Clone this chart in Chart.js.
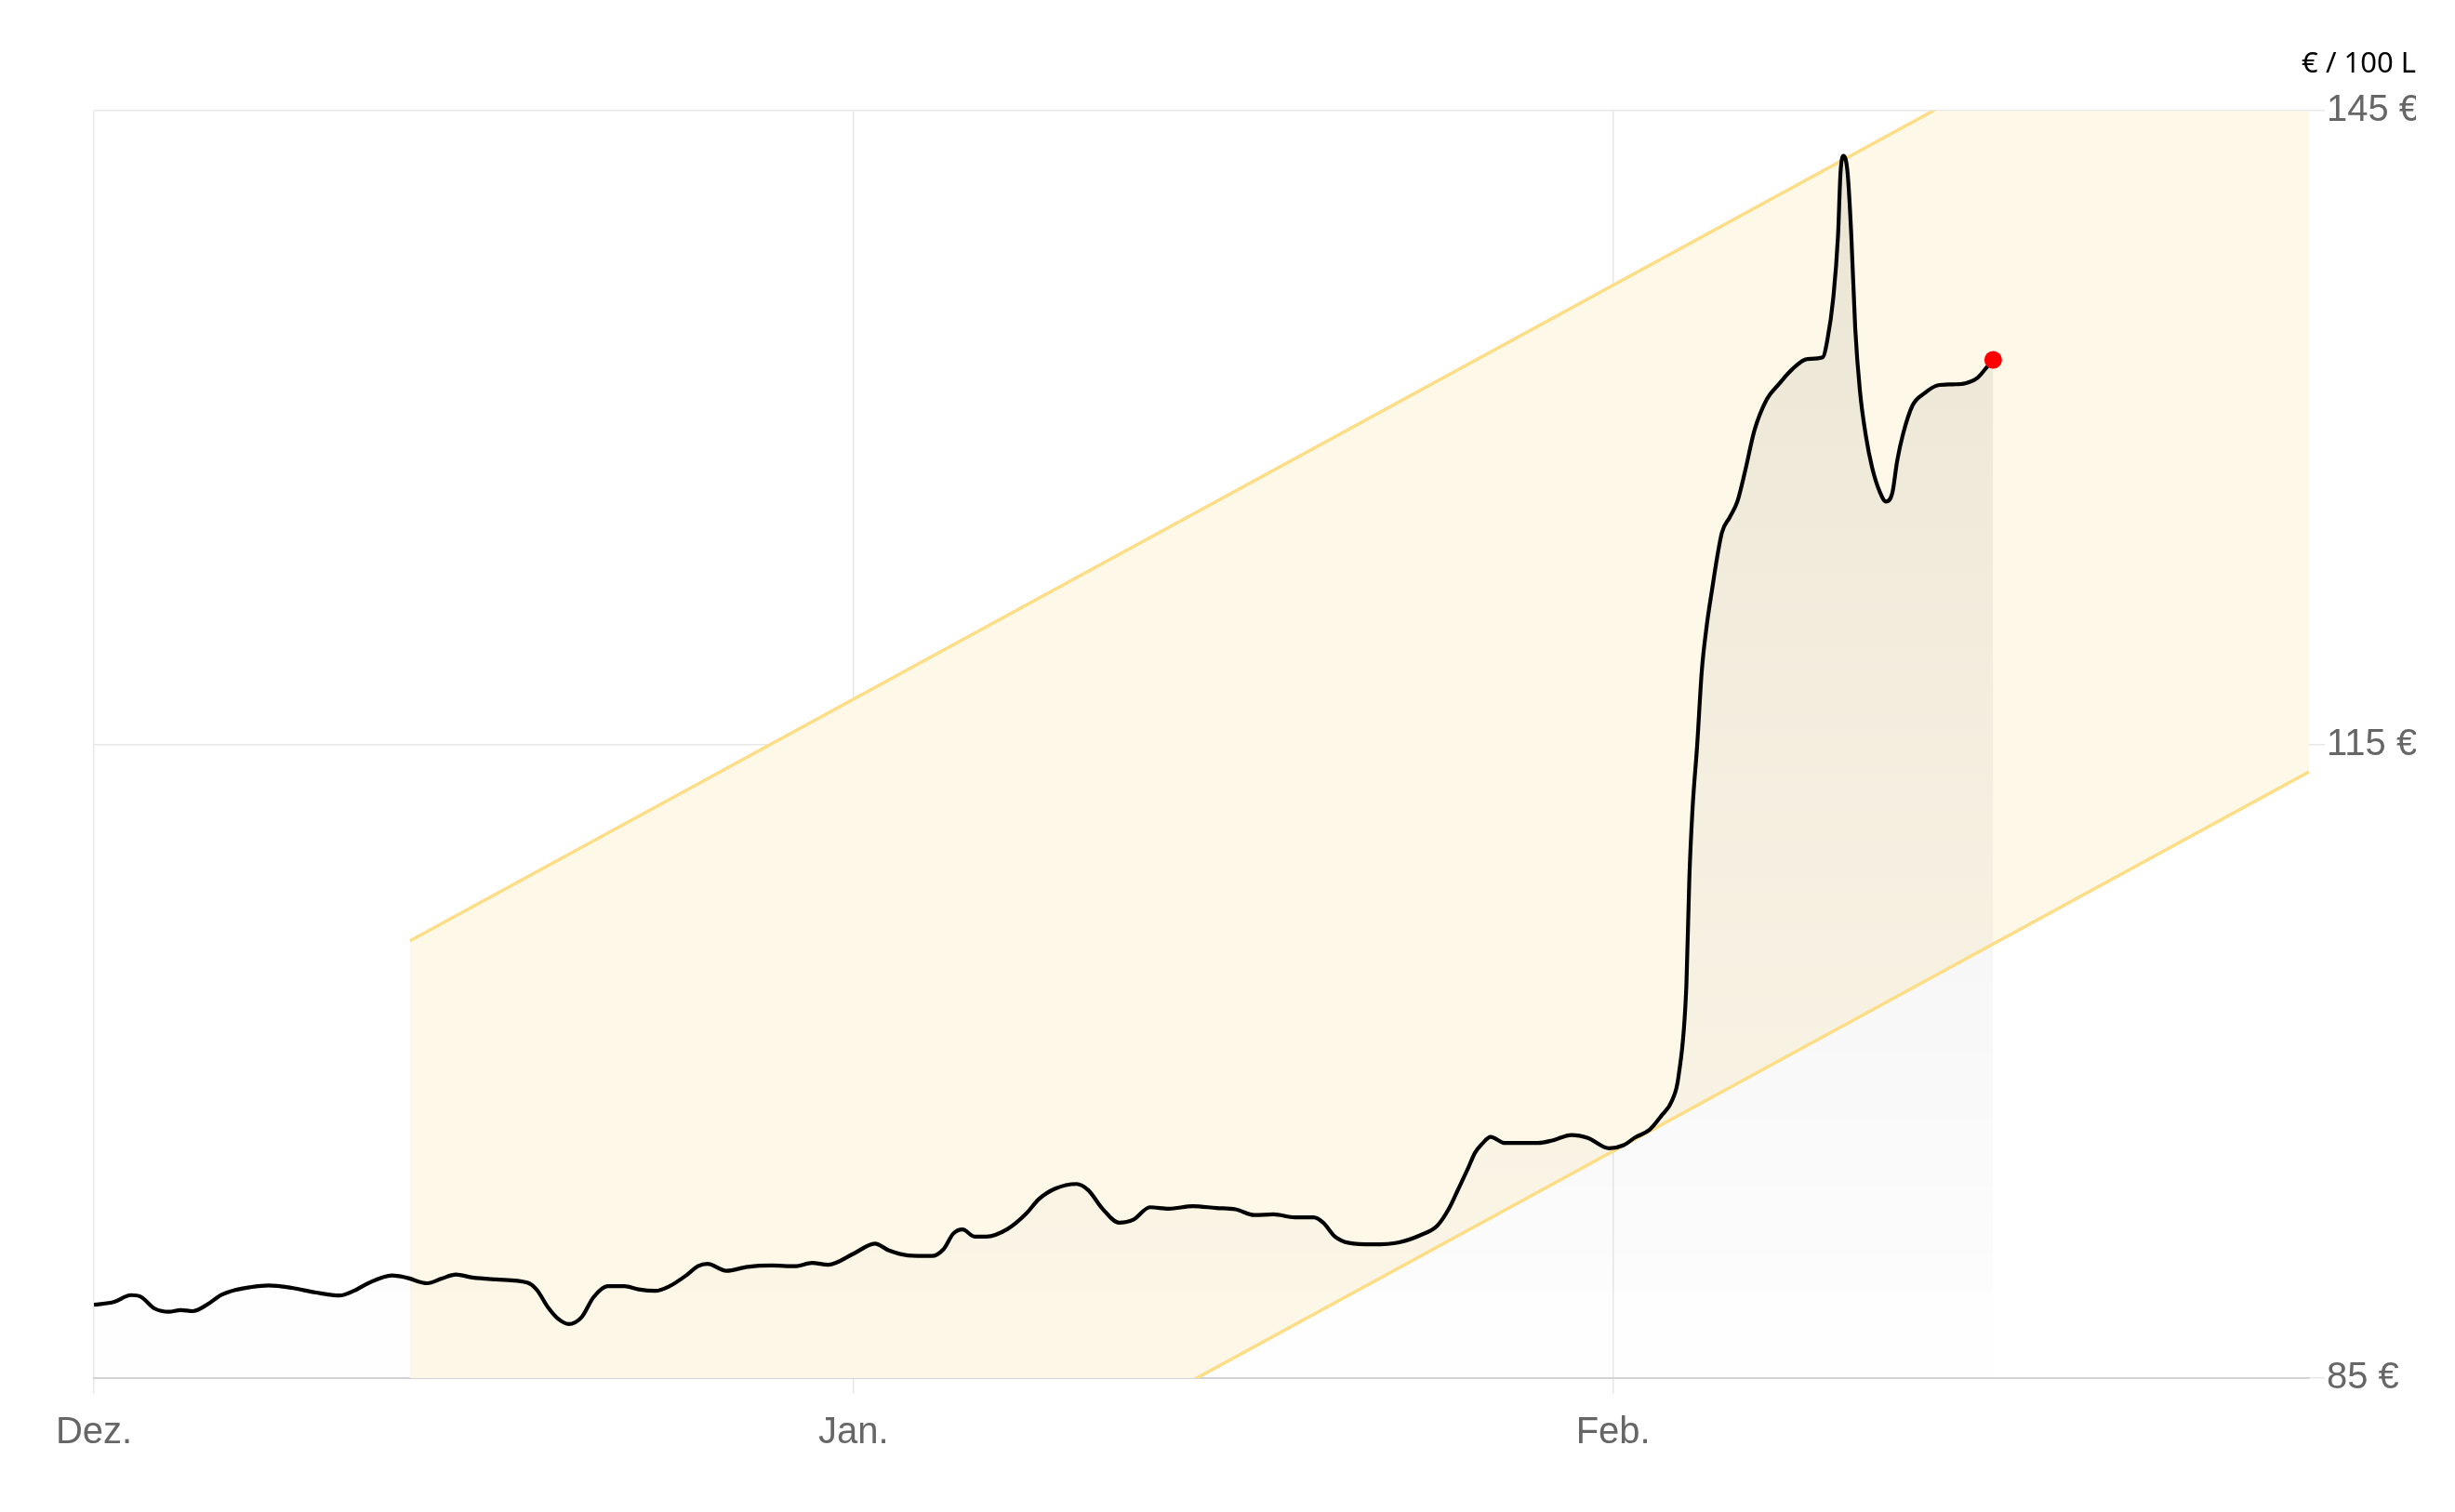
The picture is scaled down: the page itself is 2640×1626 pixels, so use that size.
<!doctype html>
<html lang="de">
<head>
<meta charset="utf-8">
<title>Heizölpreis</title>
<style>
  html, body { margin: 0; padding: 0; background: #fff; }
  canvas { display: block; }
</style>
</head>
<body>
<canvas id="chart" width="2640" height="1626"></canvas>
<script src="https://cdn.jsdelivr.net/npm/chart.js"></script>
<script>
// days since 1 Dec
const days = [
  0, 0.83, 1.51, 1.9, 2.48, 3.06, 3.54, 4.03, 4.61, 5.19, 5.77, 6.35, 7.13, 8.09, 9.06, 10.03,
  10.61, 11.19, 12.16, 12.74, 13.61, 14.19, 14.77, 15.45, 16.42, 17.68, 18.06, 18.55, 18.94,
  19.38, 19.9, 20.39, 20.97, 21.65, 22.23, 22.91, 23.49, 24.17, 24.65, 25.04, 25.81, 26.68,
  27.65, 28.62, 29.3, 29.97, 31.0, 31.87, 32.45, 33.23, 34.19, 34.68, 35.07, 35.45, 35.94,
  36.42, 37.29, 38.06, 38.55, 39.23, 40.1, 40.58, 41.16, 41.84, 42.42, 43.1, 43.87, 44.85,
  45.81, 46.59, 47.36, 48.14, 49.01, 49.78, 50.17, 50.65, 51.23, 52.2, 53.27, 54.14, 54.82,
  55.3, 55.69, 56.08, 56.36, 56.66, 57.0, 57.59, 58.94, 59.52, 60.3, 60.97, 61.84, 62.43,
  62.91, 63.49, 63.97, 64.41, 64.67, 64.99, 65.11, 65.24, 65.43, 65.62, 65.81, 66.0, 66.44,
  66.76, 67.07, 67.39, 67.77, 68.27, 68.78, 69.29, 69.92, 70.55, 70.74, 70.99, 71.18, 71.28,
  71.4, 71.57, 71.72, 71.88, 72.07, 72.32, 72.57, 72.89, 73.14, 73.4, 73.59, 73.84, 74.22,
  74.72, 75.23, 75.86, 76.37, 76.88, 77.32, 77.51
]
// € / 100 L
const prices = [
  88.47, 88.61, 88.93, 88.86, 88.29, 88.14, 88.22, 88.17, 88.47, 88.93, 89.17, 89.30, 89.39, 89.27, 89.05, 88.91,
  89.13, 89.49, 89.86, 89.76, 89.49, 89.71, 89.90, 89.76, 89.67, 89.52, 89.20, 88.32, 87.81,
  87.56, 87.88, 88.83, 89.35, 89.35, 89.20, 89.13, 89.35, 89.86, 90.30, 90.41, 90.08, 90.27,
  90.33, 90.30, 90.45, 90.37, 90.89, 91.37, 91.04, 90.81, 90.78, 91.11, 91.84, 92.04, 91.70,
  91.70, 92.06, 92.80, 93.46, 93.97, 94.19, 93.90, 93.02, 92.36, 92.50, 93.09, 93.02, 93.14,
  93.05, 92.99, 92.72, 92.75, 92.61, 92.61, 92.36, 91.70, 91.40, 91.33, 91.43, 91.77, 92.21,
  93.02, 93.97, 94.93, 95.66, 96.10, 96.42, 96.13, 96.13, 96.25, 96.51, 96.37, 95.88, 96.03,
  96.40, 96.76, 97.42, 98.15, 99.29, 103.59, 108.64, 111.93, 114.96, 118.50, 120.53, 122.05, 125.03,
  125.76, 126.50, 127.96, 129.88, 131.34, 132.08, 132.74, 133.25, 133.33, 134.13, 136.19, 139.13, 142.06,
  142.87, 142.06, 139.13, 134.72, 131.78, 129.58, 128.11, 126.94, 126.50, 126.94, 128.41, 129.73, 131.05,
  131.64, 132.00, 132.05, 132.10, 132.37, 132.96, 133.21
]

// trend channel
const bandDays = [12.9, 90.4]
const bandUpper = [105.7, 154.7]
const bandLower = [64.7, 113.7]

const monthTicks = [0, 31, 62]
const monthLabels = ['Dez.', 'Jan.', 'Feb.']
const priceTicks = [85, 115, 145]

const toPoints = (xs, ys) => xs.map((x, i) => ({ x, y: ys[i] }))
const lastIndex = days.length - 1

const tickFont = { family: "'Liberation Sans', Arial, sans-serif", size: 40 }

new Chart(document.getElementById('chart'), {
  type: 'line',
  data: {
    datasets: [
      {
        data: toPoints(days, prices),
        borderColor: '#000',
        borderWidth: 4.2,
        cubicInterpolationMode: 'monotone',
        fill: 'start',
        backgroundColor: (ctx) => {
          const { chartArea, ctx: c } = ctx.chart
          if (!chartArea) return 'rgba(0,0,0,0.03)'
          const g = c.createLinearGradient(0, chartArea.top, 0, chartArea.bottom)
          g.addColorStop(0, 'rgba(40,30,10,0.09)')
          g.addColorStop(0.5, 'rgba(20,15,5,0.045)')
          g.addColorStop(0.93, 'rgba(0,0,0,0.012)')
          g.addColorStop(0.932, 'rgba(0,0,0,0.005)')
          g.addColorStop(1, 'rgba(0,0,0,0.003)')
          return g
        },
        pointRadius: (ctx) => (ctx.dataIndex === lastIndex ? 9.5 : 0),
        pointBackgroundColor: '#ff0000',
        pointBorderWidth: 0,
        pointHoverRadius: 0,
      },
      {
        data: toPoints(bandDays, bandUpper),
        borderColor: '#fddd86',
        borderWidth: 3.5,
        pointRadius: 0,
        fill: '+1',
        backgroundColor: '#fdf8e8',
      },
      {
        data: toPoints(bandDays, bandLower),
        borderColor: '#fddd86',
        borderWidth: 3.5,
        pointRadius: 0,
        fill: false,
      },
    ],
  },
  options: {
    responsive: false,
    devicePixelRatio: 1,
    animation: false,
    layout: { padding: { left: 101, right: 42, top: 0, bottom: 0 } },
    plugins: {
      // all fills first, so the channel fill does not cover the lower line
      filler: { drawTime: 'beforeDatasetsDraw' },
      legend: { display: false },
      tooltip: { enabled: false },
      title: {
        display: true,
        text: '€ / 100 L',
        align: 'end',
        color: '#000',
        font: { family: "'Noto Sans', sans-serif", size: 31, weight: 'normal' },
        padding: { top: 51, bottom: 31 },
      },
    },
    scales: {
      x: {
        type: 'linear',
        min: 0,
        max: 90.4,
        afterBuildTicks: (scale) => {
          scale.ticks = monthTicks.map((v) => ({ value: v }))
        },
        afterFit: (scale) => {
          scale.height = 144
        },
        ticks: {
          autoSkip: false,
          maxRotation: 0,
          padding: 18,
          color: '#666',
          font: tickFont,
          callback: (v) => monthLabels[monthTicks.indexOf(v)],
        },
        grid: { color: '#e8e8e8', lineWidth: 1.5, tickLength: 17 },
        border: { color: '#d2d2d8', width: 2 },
      },
      y: {
        position: 'right',
        min: 85,
        max: 145,
        afterBuildTicks: (scale) => {
          scale.ticks = priceTicks.map((v) => ({ value: v }))
        },
        afterFit: (scale) => {
          scale.width = 115
        },
        ticks: {
          padding: 2,
          color: '#666',
          font: tickFont,
          callback: (v) => v + ' €',
        },
        grid: { color: '#e8e8e8', lineWidth: 1.5, tickLength: 17 },
        border: { display: false },
      },
    },
  },
})
</script>
</body>
</html>
